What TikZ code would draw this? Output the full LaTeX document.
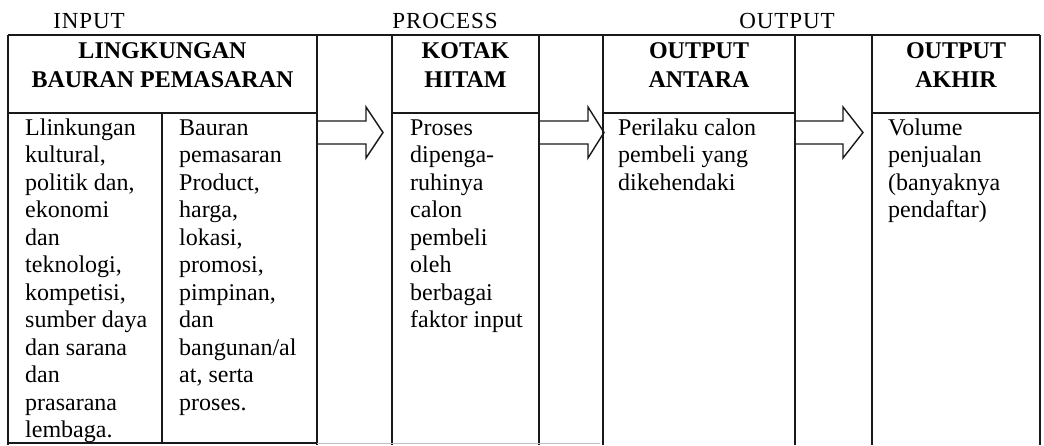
\documentclass[tikz,border=0pt]{standalone}
\usepackage{fontspec}
\setmainfont{Liberation Serif}
\newfontfamily\toplabfont{Liberation Serif}[LetterSpace=4]
\begin{document}
\begin{tikzpicture}[x=1pt,y=-1pt]
\tikzset{
  tbl/.style={line width=1.3pt, black!90},
  blockarrow/.style={line width=1.4pt, black!90, line join=miter},
  bodytext/.style={anchor=north west, inner sep=0pt, align=left, font=\fontsize{24}{27.5}\selectfont},
  headtext/.style={anchor=north, inner sep=0pt, align=center, font=\fontsize{24}{28.5}\selectfont\bfseries},
  toplabel/.style={anchor=base, inner sep=0pt, font=\toplabfont\fontsize{23}{27.5}\selectfont}
}
\useasboundingbox (0,0) rectangle (1044,445);
\fill[white] (0,0) rectangle (1044,445);

% top labels
\node[toplabel] (tin) at (89,28) {INPUT};
\node[toplabel] (tpr) at (445,28) {PROCESS};
\node[toplabel] (tout) at (787,28) {OUTPUT};

% table lines
\draw[tbl] (8,35) -- (1040,35);
\foreach \x in {8,317,392,539,603,795,872,1040} \draw[tbl] (\x,35) -- (\x,445);
\draw[tbl] (162,113) -- (162,443);
\draw[tbl] (8,113) -- (317,113);
\draw[tbl] (392,113) -- (539,113);
\draw[tbl] (603,113) -- (795,113);
\draw[tbl] (872,113) -- (1040,113);
\draw[tbl] (8,443) -- (317,443);
\draw[line width=1pt, black!25] (317,443.5) -- (600,443.5);

% block arrows
\newcommand\blockarr[3]{\draw[blockarrow] (#1,121) -- (#2,121) -- (#2,107) -- (#3,132.5) -- (#2,158) -- (#2,144) -- (#1,144);}
\blockarr{317}{366}{383}
\blockarr{539}{588}{604}
\blockarr{795}{843}{863}

% headers
\node[headtext] (hL) at (162.5,38.5) {\strut LINGKUNGAN\\BAURAN PEMASARAN};
\node[headtext] (hK) at (465.5,38.5) {\strut KOTAK\\HITAM};
\node[headtext] (hA) at (699,38.5) {\strut OUTPUT\\ANTARA};
\node[headtext] (hZ) at (956,38.5) {\strut OUTPUT\\AKHIR};

% body texts
\node[bodytext] (b1) at (25,115.75) {\strut Llinkungan\\kultural,\\politik dan,\\ekonomi\\dan\\teknologi,\\kompetisi,\\sumber daya\\dan sarana\\dan\\prasarana\\lembaga.};
\node[bodytext] (b2) at (179,115.75) {\strut Bauran\\pemasaran\\Product,\\harga,\\lokasi,\\promosi,\\pimpinan,\\dan\\bangunan/al\\at, serta\\proses.};
\node[bodytext] (b3) at (410,115.75) {\strut Proses\\dipenga-\\ruhinya\\calon\\pembeli\\oleh\\berbagai\\faktor input};
\node[bodytext] (b4) at (618,115.75) {\strut Perilaku calon\\pembeli yang\\dikehendaki};
\node[bodytext] (b5) at (888,115.75) {\strut Volume\\penjualan\\(banyaknya\\pendaftar)};
\end{tikzpicture}
\end{document}
